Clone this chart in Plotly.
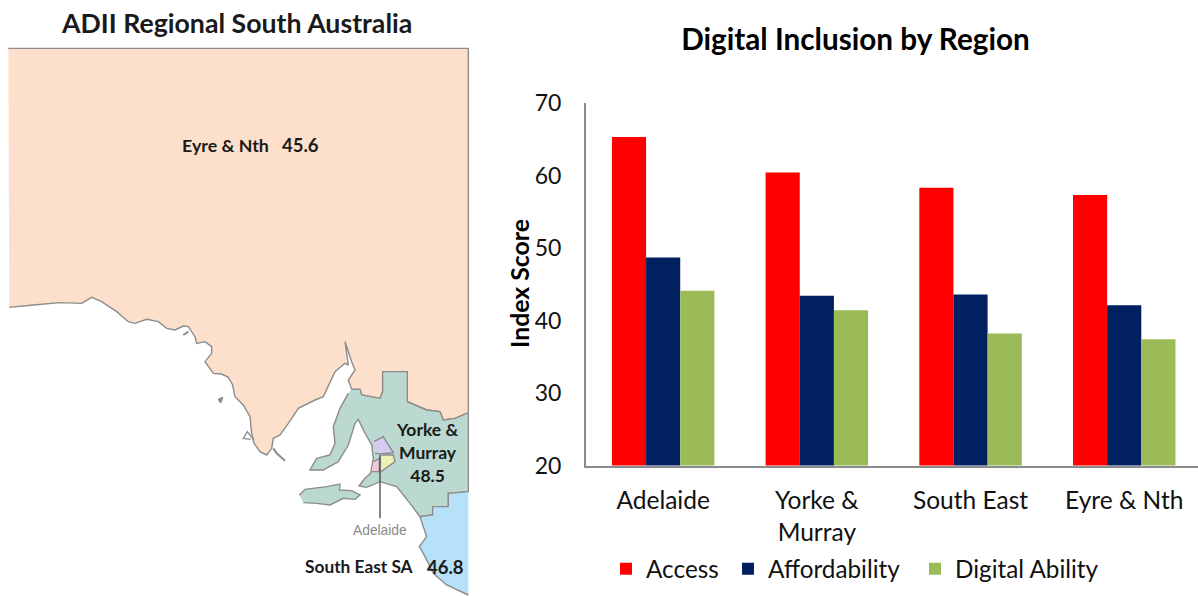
import plotly.graph_objects as go

# ---------- bar chart data ----------
categories = ["Adelaide", "Yorke &<br>Murray", "South East", "Eyre & Nth"]
access = [65.3, 60.4, 58.3, 57.3]
affordability = [48.7, 43.4, 43.6, 42.1]
digital_ability = [44.1, 41.4, 38.2, 37.4]
y_ticks = [20, 30, 40, 50, 60, 70]

# ---------- map outlines (map units) ----------
eyre_x = [25, 1405, 1405, 1400, 1365, 1330, 1320, 1280, 1222, 1222, 1148, 1148, 1140, 1085, 1080, 1055, 1045, 1065, 1055, 1035,
          1045, 1035, 1005, 970, 945, 895, 865, 840, 820, 815, 800, 780, 762, 755, 750, 730, 705, 698, 685, 665, 640,
          615, 635, 635, 615, 590, 585, 565, 550, 525, 500, 475, 440, 405, 385, 350, 305, 275, 245, 180, 100, 28]
eyre_y = [-695, -695, 400, 400, 415, 420, 395, 390, 365, 275, 275, 335, 355, 345, 328, 328, 300, 270, 245, 185,
          255, 250, 275, 350, 360, 385, 430, 465, 475, 505, 525, 515, 490, 460, 410, 375, 350, 315, 292, 282, 280,
          245, 220, 200, 185, 190, 170, 140, 138, 150, 145, 125, 118, 130, 125, 95, 65, 52, 70, 68, 75, 82]
york_x = [1055, 1080, 1085, 1140, 1148, 1148, 1222, 1222, 1280, 1320, 1330, 1365, 1400, 1405, 1405, 1345, 1345, 1298, 1298,
          1260, 1230, 1190, 1140, 1100, 1077, 1095, 1112, 1120, 1115, 1090, 1075, 1065, 1045, 1015, 970, 930,
          950, 990, 1005, 1000, 1020, 1045]
york_y = [328, 328, 345, 355, 335, 275, 275, 365, 390, 395, 420, 415, 400, 400, 635, 640, 680, 680, 705,
          710, 670, 620, 605, 622, 618, 595, 580, 535, 495, 450, 418, 430, 495, 545, 570, 570,
          535, 525, 490, 440, 385, 340]
kangaroo_x = [898, 915, 980, 1020, 1018, 1055, 1080, 1065, 1030, 990, 950, 910]
kangaroo_y = [645, 628, 620, 612, 630, 632, 645, 658, 655, 675, 670, 668]
southeast_x = [1405, 1345, 1345, 1298, 1298, 1260, 1280, 1258, 1275, 1300, 1340, 1405]
southeast_y = [635, 640, 680, 680, 705, 710, 770, 800, 830, 880, 915, 945]
north_adelaide_x = [1122, 1150, 1165, 1180, 1140, 1125]
north_adelaide_y = [485, 470, 495, 518, 522, 520]
east_adelaide_x = [1145, 1180, 1185, 1150, 1143]
east_adelaide_y = [525, 525, 545, 570, 575]
south_adelaide_x = [1120, 1138, 1138, 1115]
south_adelaide_y = [545, 535, 575, 575]
islet_x = [655, 668, 662, 655]
islet_y = [358, 352, 368, 358]
port_lincoln_x = [762, 742, 730, 752]
port_lincoln_y = [480, 455, 475, 478]
thistle_x = [820, 830, 855]
thistle_y = [505, 520, 542]
streaky_x = [550, 565]
streaky_y = [165, 155]
leader_x = [1140, 1140]
leader_y = [525, 715]

RED, NAVY, GREEN = "#FF0000", "#002060", "#9BBB59"
EDGE = "#8C8C8C"
FONT = "Lato"

fig = go.Figure()


def region(xs, ys, fill):
    fig.add_trace(go.Scatter(x=xs, y=ys, mode="lines", fill="toself", fillcolor=fill,
                             line=dict(color=EDGE, width=1.4), hoverinfo="skip",
                             showlegend=False, xaxis="x", yaxis="y"))


def stroke(xs, ys, color=EDGE, width=1.4):
    fig.add_trace(go.Scatter(x=xs, y=ys, mode="lines", line=dict(color=color, width=width), hoverinfo="skip",
                             showlegend=False, xaxis="x", yaxis="y"))


region(eyre_x, eyre_y, "#FDE0CB")
region(york_x, york_y, "#BBD9D0")
region(kangaroo_x, kangaroo_y, "#BBD9D0")
region(southeast_x, southeast_y, "#B7E1F8")
region(north_adelaide_x, north_adelaide_y, "#D5CBEE")
region(east_adelaide_x, east_adelaide_y, "#EEF0B8")
region(south_adelaide_x, south_adelaide_y, "#F3C6DA")
region(islet_x, islet_y, "#8C8C8C")
stroke(port_lincoln_x, port_lincoln_y)
stroke(thistle_x, thistle_y, width=2)
stroke(streaky_x, streaky_y, width=2)
stroke(leader_x, leader_y, color="#444444", width=1.3)

for name, vals, col, lg in [("Access", access, RED, "legend"), ("Affordability", affordability, NAVY, "legend2"),
                            ("Digital Ability", digital_ability, GREEN, "legend3")]:
    fig.add_trace(go.Bar(x=categories, y=vals, name=name, marker=dict(color=col, line=dict(width=0)),
                         xaxis="x2", yaxis="y2", legend=lg, showlegend=True))


def label(text, x, y, size, color="#1A1A1A", bold=True, family=FONT, angle=0):
    fig.add_annotation(text=f"<b>{text}</b>" if bold else text, x=x, y=y, xref="x", yref="y", showarrow=False,
                       xanchor="center", yanchor="middle", textangle=angle,
                       font=dict(family=family, size=size, color=color))


label("ADII Regional South Australia", 708, -771, 26.7)
label("Eyre &amp; Nth", 675, -405, 17.8)
label("45.6", 900, -405, 18.5)
label("Yorke &amp;<br>Murray<br>48.5", 1281, 518, 17.5)
label("South East SA", 1077, 860, 17.3)
label("46.8", 1335, 860, 18.5)
label("Adelaide", 1140, 750, 13.8, color="#8A8A8A", bold=False, family="Liberation Sans")
label("Index Score", 1557, 12, 24.8, color="black", angle=-90)

W, H = 1198, 596


def legend_at(px):
    return dict(orientation="h", x=px / W, xanchor="left", y=1 - 569 / H, yanchor="middle",
                font=dict(family=FONT, size=24.3, color="#111111"), itemwidth=30,
                bgcolor="rgba(0,0,0,0)")


fig.update_layout(
    width=W, height=H, autosize=False, margin=dict(l=0, r=0, t=0, b=0, pad=0, autoexpand=False),
    paper_bgcolor="white", plot_bgcolor="rgba(0,0,0,0)",
    font=dict(family=FONT, color="#111111"),
    title=dict(text="<b>Digital Inclusion by Region</b>", x=855.5 / W, xanchor="center",
               y=1 - 40 / H, yanchor="middle", font=dict(family=FONT, size=29.7, color="black")),
    bargap=1 / 3, bargroupgap=0, barmode="group",
    xaxis=dict(domain=[0, 1], range=[0, 3594], visible=False, fixedrange=True),
    yaxis=dict(domain=[0, 1], range=[948, -840], visible=False, fixedrange=True),
    xaxis2=dict(domain=[586 / W, 1], range=[-0.502, 3.48], anchor="y2", showgrid=False, showline=True,
                linecolor="#8C8C8C", linewidth=2, ticks="", ticklabelstandoff=12,
                tickfont=dict(family=FONT, size=24.5, color="#111111"), tickangle=0),
    yaxis2=dict(domain=[1 - 465.5 / H, 1 - 103 / H], range=[20, 70], anchor="x2", showgrid=False, showline=True,
                linecolor="#8C8C8C", linewidth=2, ticks="", tickvals=y_ticks, ticklabelstandoff=18,
                tickfont=dict(family=FONT, size=23, color="#111111")),
    legend=legend_at(606), legend2=legend_at(728), legend3=legend_at(915),
    showlegend=True,
)

fig.write_html("out.html", post_script="document.body.style.margin='0';",
               config=dict(displayModeBar=False))
